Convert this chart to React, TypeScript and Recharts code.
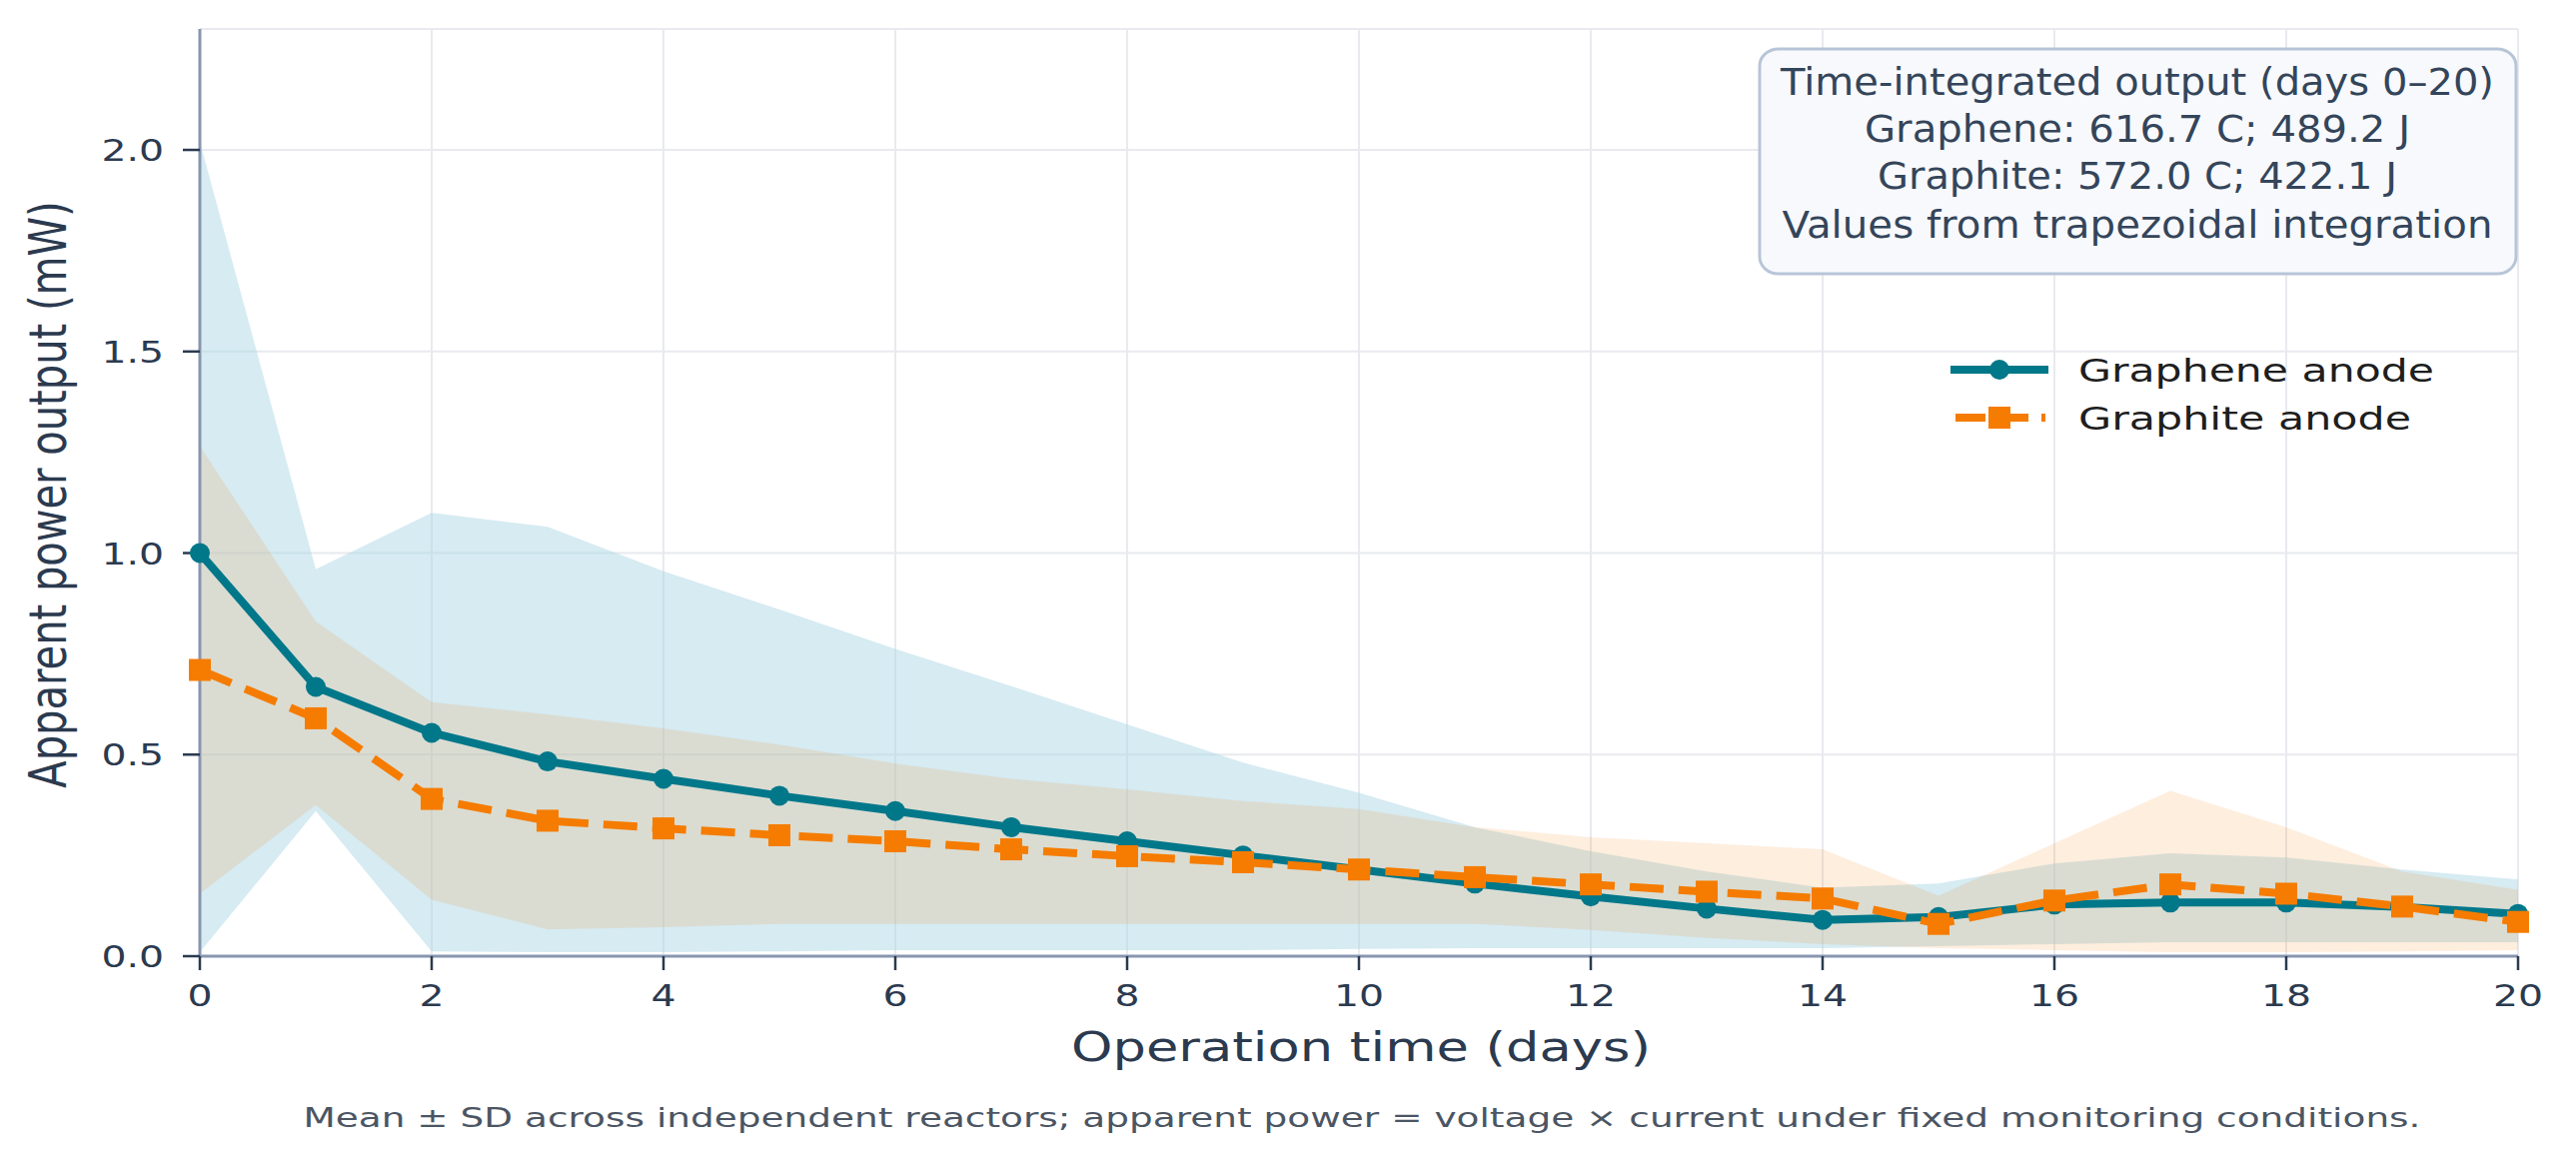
import { ComposedChart, Area, Line, XAxis, YAxis, CartesianGrid } from 'recharts';

// Palette
const TEAL = '#01778a';
const ORANGE = '#f57c00';
const INK = '#2b3a4f';
const SPINE = '#8796b0';
const GRID = '#e8eaef';
const FONT = '"DejaVu Sans", sans-serif';

// ─── Data ─────────────────────────────────────────────────────────────────────

const days = [0, 1, 2, 3, 4, 5, 6, 7, 8, 9, 10, 11, 12, 13, 14, 15, 16, 17, 18, 19, 20];

const grapheneMean = [1.0, 0.668, 0.554, 0.483, 0.44, 0.398, 0.36, 0.32, 0.285, 0.25, 0.215, 0.18, 0.148, 0.118, 0.09, 0.097, 0.128, 0.133, 0.133, 0.122, 0.105];
const grapheneHi = [2.02, 0.96, 1.1, 1.065, 0.955, 0.86, 0.762, 0.67, 0.575, 0.48, 0.405, 0.32, 0.26, 0.21, 0.17, 0.18, 0.23, 0.255, 0.245, 0.215, 0.19];
const grapheneLo = [0.01, 0.36, 0.012, 0.01, 0.01, 0.012, 0.015, 0.015, 0.015, 0.015, 0.018, 0.02, 0.02, 0.02, 0.02, 0.025, 0.03, 0.035, 0.035, 0.035, 0.035];

const graphiteMean = [0.71, 0.59, 0.39, 0.336, 0.317, 0.3, 0.285, 0.265, 0.248, 0.233, 0.215, 0.196, 0.178, 0.16, 0.143, 0.08, 0.138, 0.178, 0.155, 0.123, 0.085];
const graphiteHi = [1.265, 0.83, 0.63, 0.6, 0.565, 0.525, 0.478, 0.44, 0.414, 0.385, 0.365, 0.32, 0.295, 0.28, 0.265, 0.15, 0.28, 0.41, 0.32, 0.21, 0.165];
const graphiteLo = [0.155, 0.375, 0.14, 0.066, 0.072, 0.08, 0.08, 0.08, 0.08, 0.08, 0.08, 0.08, 0.065, 0.045, 0.03, 0.02, 0.015, 0.01, 0.01, 0.012, 0.015];

const xTicks = [0, 2, 4, 6, 8, 10, 12, 14, 16, 18, 20];
const yTicks = [0, 0.5, 1.0, 1.5, 2.0];

const boxLines = [
  'Time-integrated output (days 0–20)',
  'Graphene: 616.7 C; 489.2 J',
  'Graphite: 572.0 C; 422.1 J',
  'Values from trapezoidal integration',
];

const rows = days.map((d, i) => ({
  day: d,
  gMean: grapheneMean[i],
  oMean: graphiteMean[i],
  gBand: [grapheneLo[i], grapheneHi[i]],
  oBand: [graphiteLo[i], graphiteHi[i]],
}));

// ─── Ticks & markers ──────────────────────────────────────────────────────────

const YTick = (props: any) => {
  const { x, y, payload } = props;
  return (
    <g transform={`translate(${x},${y})`}>
      <text transform="scale(1.27,1)" textAnchor="end" dy="0.36em" fontSize={31} fill={INK} fontFamily={FONT}>
        {Number(payload.value).toFixed(1)}
      </text>
    </g>
  );
};

const XTick = (props: any) => {
  const { x, y, payload } = props;
  return (
    <g transform={`translate(${x},${y})`}>
      <text transform="scale(1.27,1)" textAnchor="middle" dy="0.72em" fontSize={31} fill={INK} fontFamily={FONT}>
        {payload.value}
      </text>
    </g>
  );
};

const SquareDot = (props: any) => {
  const { cx, cy, index } = props;
  if (cx == null || cy == null) return null;
  return <rect key={`sq-${index}`} x={cx - 11} y={cy - 11} width={22} height={22} fill={ORANGE} />;
};

// ─── Chart ────────────────────────────────────────────────────────────────────

export default function App() {
  const W = 2578;
  const H = 1163;
  const boxW = [714, 546, 520, 711];
  const boxBase = [95, 142, 189, 238];

  return (
    <div style={{ position: 'absolute', left: 0, top: 0, width: W, height: H, background: '#fff' }}>
      <ComposedChart width={W} height={H} data={rows} margin={{ top: 29, right: 58, left: 20, bottom: 146 }}>
        <CartesianGrid stroke={GRID} strokeWidth={2} />
        <XAxis
          type="number"
          dataKey="day"
          domain={[0, 20]}
          ticks={xTicks}
          height={60}
          tickSize={14}
          tickMargin={14}
          axisLine={{ stroke: SPINE, strokeWidth: 3 }}
          tickLine={{ stroke: INK, strokeWidth: 2.5 }}
          tick={<XTick />}
          interval={0}
        />
        <YAxis
          type="number"
          domain={[0, 2.3]}
          ticks={yTicks}
          width={180}
          tickSize={17}
          tickMargin={19}
          axisLine={{ stroke: SPINE, strokeWidth: 3 }}
          tickLine={{ stroke: INK, strokeWidth: 2.5 }}
          tick={<YTick />}
          interval={0}
          allowDataOverflow
        />
        <Area type="linear" dataKey="gBand" fill="#add8e6" fillOpacity={0.5} stroke="none" isAnimationActive={false} activeDot={false} />
        <Area type="linear" dataKey="oBand" fill={ORANGE} fillOpacity={0.13} stroke="none" isAnimationActive={false} activeDot={false} />
        <Line
          type="linear"
          dataKey="gMean"
          stroke={TEAL}
          strokeWidth={8}
          strokeLinejoin="round"
          dot={{ r: 10, fill: TEAL, stroke: TEAL, strokeWidth: 0 }}
          activeDot={false}
          isAnimationActive={false}
        />
        <Line
          type="linear"
          dataKey="oMean"
          stroke={ORANGE}
          strokeWidth={8}
          strokeDasharray="34 15"
          dot={<SquareDot />}
          activeDot={false}
          isAnimationActive={false}
        />
      </ComposedChart>

      <svg width={W} height={H} style={{ position: 'absolute', left: 0, top: 0, pointerEvents: 'none' }} fontFamily={FONT}>
        {/* Axis titles */}
        <text transform="translate(66,495) scale(1.27,1) rotate(-90)" textAnchor="middle" fontSize={40} fill={INK}>
          Apparent power output (mW)
        </text>
        <text x={1362} y={1062} textAnchor="middle" fontSize={41} fill={INK} textLength={580} lengthAdjust="spacingAndGlyphs">
          Operation time (days)
        </text>

        {/* Footnote */}
        <text x={1363} y={1128} textAnchor="middle" fontSize={26} fill="#4b5563" textLength={2119} lengthAdjust="spacingAndGlyphs">
          Mean ± SD across independent reactors; apparent power = voltage × current under fixed monitoring conditions.
        </text>

        {/* Annotation box */}
        <rect x={1761} y={49} width={757} height={225} rx={19} ry={17} fill="#f7f9fc" stroke="#b8c5d8" strokeWidth={3} />
        {boxLines.map((t, i) => (
          <text key={t} x={2139} y={boxBase[i]} textAnchor="middle" fontSize={37} fill="#34455a" textLength={boxW[i]} lengthAdjust="spacingAndGlyphs">
            {t}
          </text>
        ))}

        {/* Legend */}
        <line x1={1952} x2={2050} y1={370} y2={370} stroke={TEAL} strokeWidth={8} />
        <circle cx={2001} cy={370} r={10} fill={TEAL} />
        <text x={2080} y={382} fontSize={32} fill="#1e1e1e" textLength={356} lengthAdjust="spacingAndGlyphs">
          Graphene anode
        </text>
        <line x1={1957} x2={2047} y1={418} y2={418} stroke={ORANGE} strokeWidth={8} strokeDasharray="30 13" />
        <rect x={1990} y={407} width={22} height={22} fill={ORANGE} />
        <text x={2080} y={430} fontSize={32} fill="#1e1e1e" textLength={333} lengthAdjust="spacingAndGlyphs">
          Graphite anode
        </text>
      </svg>
    </div>
  );
}
